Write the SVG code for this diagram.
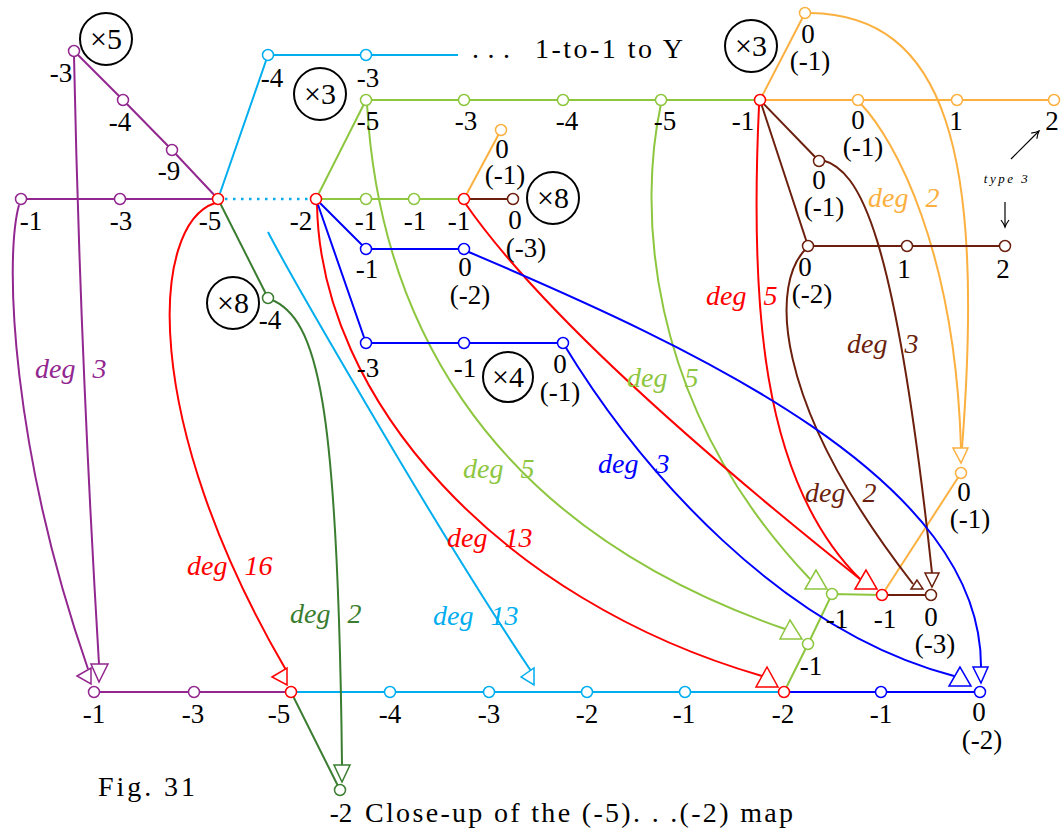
<svg xmlns="http://www.w3.org/2000/svg" width="1061" height="834" viewBox="0 0 1061 834">
<style>
.e{fill:none;stroke-width:2}
.pu{stroke:#92278F}.cy{stroke:#00AEEF}.gr{stroke:#8DC63F}.or{stroke:#FBB040}.br{stroke:#6B1F0C}.rd{stroke:#FF0000}.bl{stroke:#0000FF}.dg{stroke:#3A7D30}
.n circle{fill:#fff;stroke-width:1.5}
.ah{fill:#fff;stroke-width:1.5}
text{font-family:"Liberation Serif","Times New Roman",serif;font-size:27px;fill:#000;stroke:none}
.l{text-anchor:middle}
.d{font-style:italic;font-size:28px;word-spacing:10px}
.m circle{fill:none;stroke:#000;stroke-width:2}
.m text{font-size:30px}
</style>
<defs>
<marker id="blk" markerWidth="10" markerHeight="10" refX="8" refY="5" orient="auto" markerUnits="userSpaceOnUse">
<path d="M1,1 Q5,4 8,5 Q5,6 1,9" fill="none" stroke="#000" stroke-width="1.2"/>
</marker>
</defs>
<g id="connectors">
<polyline class="e pu" points="74,51 123,100 172,150 218,199"/>
<polyline class="e pu" points="21,199 120,199 218,199"/>
<path class="e pu" d="M74,56 Q80,350 99,664"/>
<path class="e pu" d="M19,205 C4,260 12,450 88,669"/>
<polyline class="e pu" points="94,692 194,692 291,692"/>
<polyline class="e cy" points="218,199 268,55 366,55 458,55"/>
<line class="cy" x1="225" y1="199" x2="311" y2="199" stroke-width="2.5" stroke-dasharray="2.5 5.5"/>
<polyline class="e cy" points="291,692 390,692 489,692 587,692 685,692 784,692"/>
<path class="e cy" d="M268,232 C285,265 430,520 531,671"/>
<polyline class="e gr" points="316,199 366,100 464,100 563,100 661,100 760,100"/>
<polyline class="e gr" points="316,199 366,199 414,199 464,199"/>
<path class="e gr" d="M367,104 C378,300 470,520 785,629"/>
<path class="e gr" d="M661,104 C640,200 640,400 810,579"/>
<polyline class="e gr" points="784,692 808,644 832,594 882,595"/>
<line class="e or" x1="464" y1="199" x2="501" y2="130"/>
<line class="e or" x1="760" y1="100" x2="805" y2="13"/>
<polyline class="e or" points="760,100 858,100 957,100 1054,100"/>
<path class="e or" d="M810,13 C945,15 985,150 962,448"/>
<path class="e or" d="M861,104 C895,140 955,250 961,448"/>
<line class="e or" x1="882" y1="595" x2="961" y2="473"/>
<line class="e br" x1="464" y1="199" x2="513" y2="199"/>
<line class="e br" x1="760" y1="100" x2="819" y2="161"/>
<line class="e br" x1="760" y1="100" x2="808" y2="246"/>
<polyline class="e br" points="808,246 907,246 1005,246"/>
<line class="e br" x1="882" y1="595" x2="931" y2="595"/>
<path class="e br" d="M822,160 C860,170 895,230 932,573"/>
<path class="e br" d="M808,247 C770,280 770,400 913,584"/>
<path class="e rd" d="M215,203 C150,225 140,420 286,670"/>
<path class="e rd" d="M317,204 C320,400 500,600 762,676"/>
<path class="e rd" d="M465,203 Q560,340 860,579"/>
<path class="e rd" d="M759,106 C750,300 760,480 860,579"/>
<polyline class="e bl" points="316,199 366,249 464,249"/>
<polyline class="e bl" points="316,199 366,343 464,343 563,343"/>
<polyline class="e bl" points="784,692 881,692 980,692"/>
<path class="e bl" d="M464,250 C700,350 982,480 981,667"/>
<path class="e bl" d="M563,343 C640,470 780,630 954,676"/>
<line class="e dg" x1="218" y1="199" x2="268" y2="298"/>
<path class="e dg" d="M270,299 C318,318 338,400 342,765"/>
<line class="e dg" x1="291" y1="692" x2="340" y2="790"/>
<polygon class="ah pu" points="91,664 108,664 99,682"/>
<polygon class="ah pu" points="77,676 91,668 91,684"/>
<polygon class="ah rd" points="272,677 287,668 287,685"/>
<polygon class="ah cy" points="521,677 534,668 534,685"/>
<polygon class="ah dg" points="334,765 350,765 342,782"/>
<polygon class="ah rd" points="767,667 756,687 778,687"/>
<polygon class="ah gr" points="790,620 780,639 802,639"/>
<polygon class="ah gr" points="816,570 805,589 827,589"/>
<polygon class="ah rd" points="866,570 855,589 877,589"/>
<polygon class="ah br" points="917,580 911,589 923,589"/>
<polygon class="ah br" points="925,573 939,573 932,587"/>
<polygon class="ah bl" points="960,667 949,686 971,686"/>
<polygon class="ah bl" points="973,667 988,667 981,683"/>
<polygon class="ah or" points="953,448 968,448 961,463"/>
<line x1="1011" y1="159" x2="1039" y2="131" stroke="#000" stroke-width="1.2" marker-end="url(#blk)"/>
<line x1="1005" y1="202" x2="1005" y2="227" stroke="#000" stroke-width="1.2" marker-end="url(#blk)"/>
</g>
<g id="deg-labels">
<text class="d" x="35" y="378" style="fill:#92278F">deg 3</text>
<text class="d" x="187" y="575" style="fill:#FF0000">deg 16</text>
<text class="d" x="290" y="623" style="fill:#3A7D30">deg 2</text>
<text class="d" x="433" y="625" style="fill:#00AEEF">deg 13</text>
<text class="d" x="447" y="547" style="fill:#FF0000">deg 13</text>
<text class="d" x="463" y="478" style="fill:#8DC63F">deg 5</text>
<text class="d" x="598" y="473" style="fill:#0000FF">deg 3</text>
<text class="d" x="627" y="387" style="fill:#8DC63F">deg 5</text>
<text class="d" x="706" y="305" style="fill:#FF0000">deg 5</text>
<text class="d" x="847" y="353" style="fill:#6B1F0C">deg 3</text>
<text class="d" x="805" y="502" style="fill:#6B1F0C">deg 2</text>
<text class="d" x="868" y="207" style="fill:#FBB040">deg 2</text>
<text class="l" x="1007" y="183" style="font-size:13px;font-style:italic;letter-spacing:2.5px">type 3</text>
</g>
<g id="p1" class="n pu"><circle cx="74" cy="51" r="5.5"/><text class="l" x="61" y="82">-3</text></g>
<g id="p2" class="n pu"><circle cx="123" cy="100" r="5.5"/><text class="l" x="120" y="131">-4</text></g>
<g id="p3" class="n pu"><circle cx="172" cy="150" r="5.5"/><text class="l" x="169" y="180">-9</text></g>
<g id="p4" class="n pu"><circle cx="21" cy="199" r="5.5"/><text class="l" x="31" y="230">-1</text></g>
<g id="p5" class="n pu"><circle cx="120" cy="199" r="5.5"/><text class="l" x="121" y="230">-3</text></g>
<g id="pb1" class="n pu"><circle cx="94" cy="692" r="5.5"/><text class="l" x="94" y="723">-1</text></g>
<g id="pb2" class="n pu"><circle cx="194" cy="692" r="5.5"/><text class="l" x="193" y="723">-3</text></g>
<g id="r1" class="n rd"><circle cx="218" cy="199" r="5.5"/><text class="l" x="210" y="230">-5</text></g>
<g id="r2" class="n rd"><circle cx="316" cy="199" r="5.5"/><text class="l" x="301" y="230">-2</text></g>
<g id="r3" class="n rd"><circle cx="464" cy="199" r="5.5"/><text class="l" x="459" y="230">-1</text></g>
<g id="r4" class="n rd"><circle cx="760" cy="100" r="5.5"/><text class="l" x="743" y="130">-1</text></g>
<g id="rb1" class="n rd"><circle cx="291" cy="692" r="5.5"/><text class="l" x="279" y="723">-5</text></g>
<g id="rb2" class="n rd"><circle cx="784" cy="692" r="5.5"/><text class="l" x="783" y="723">-2</text></g>
<g id="r5" class="n rd"><circle cx="882" cy="595" r="5.5"/><text class="l" x="885" y="628">-1</text></g>
<g id="c1" class="n cy"><circle cx="268" cy="55" r="5.5"/><text class="l" x="272" y="87">-4</text></g>
<g id="c2" class="n cy"><circle cx="366" cy="55" r="5.5"/><text class="l" x="368" y="87">-3</text></g>
<g id="cb1" class="n cy"><circle cx="390" cy="692" r="5.5"/><text class="l" x="390" y="723">-4</text></g>
<g id="cb2" class="n cy"><circle cx="489" cy="692" r="5.5"/><text class="l" x="489" y="723">-3</text></g>
<g id="cb3" class="n cy"><circle cx="587" cy="692" r="5.5"/><text class="l" x="587" y="723">-2</text></g>
<g id="cb4" class="n cy"><circle cx="685" cy="692" r="5.5"/><text class="l" x="684" y="723">-1</text></g>
<g id="g1" class="n gr"><circle cx="366" cy="100" r="5.5"/><text class="l" x="368" y="130">-5</text></g>
<g id="g2" class="n gr"><circle cx="464" cy="100" r="5.5"/><text class="l" x="466" y="130">-3</text></g>
<g id="g3" class="n gr"><circle cx="563" cy="100" r="5.5"/><text class="l" x="567" y="130">-4</text></g>
<g id="g4" class="n gr"><circle cx="661" cy="100" r="5.5"/><text class="l" x="665" y="130">-5</text></g>
<g id="g5" class="n gr"><circle cx="366" cy="199" r="5.5"/><text class="l" x="366" y="230">-1</text></g>
<g id="g6" class="n gr"><circle cx="414" cy="199" r="5.5"/><text class="l" x="415" y="230">-1</text></g>
<g id="g7" class="n gr"><circle cx="832" cy="594" r="5.5"/><text class="l" x="837" y="628">-1</text></g>
<g id="g8" class="n gr"><circle cx="808" cy="644" r="5.5"/><text class="l" x="811" y="675">-1</text></g>
<g id="o1" class="n or"><circle cx="501" cy="130" r="5.5"/><text class="l" x="502" y="158">0</text><text class="l" x="505" y="184">(-1)</text></g>
<g id="o2" class="n or"><circle cx="805" cy="13" r="5.5"/><text class="l" x="808" y="43">0</text><text class="l" x="810" y="70">(-1)</text></g>
<g id="o3" class="n or"><circle cx="858" cy="100" r="5.5"/><text class="l" x="858" y="129">0</text><text class="l" x="863" y="156">(-1)</text></g>
<g id="o4" class="n or"><circle cx="957" cy="100" r="5.5"/><text class="l" x="956" y="130">1</text></g>
<g id="o5" class="n or"><circle cx="1054" cy="100" r="5.5"/><text class="l" x="1052" y="130">2</text></g>
<g id="o6" class="n or"><circle cx="961" cy="473" r="5.5"/><text class="l" x="964" y="501">0</text><text class="l" x="970" y="528">(-1)</text></g>
<g id="b1" class="n br"><circle cx="513" cy="199" r="5.5"/><text class="l" x="515" y="229">0</text><text class="l" x="526" y="257">(-3)</text></g>
<g id="b2" class="n br"><circle cx="819" cy="161" r="5.5"/><text class="l" x="819" y="189">0</text><text class="l" x="824" y="216">(-1)</text></g>
<g id="b3" class="n br"><circle cx="808" cy="246" r="5.5"/><text class="l" x="805" y="276">0</text><text class="l" x="812" y="303">(-2)</text></g>
<g id="b4" class="n br"><circle cx="907" cy="246" r="5.5"/><text class="l" x="904" y="278">1</text></g>
<g id="b5" class="n br"><circle cx="1005" cy="246" r="5.5"/><text class="l" x="1003" y="278">2</text></g>
<g id="b6" class="n br"><circle cx="931" cy="595" r="5.5"/><text class="l" x="931" y="626">0</text><text class="l" x="935" y="653">(-3)</text></g>
<g id="u1" class="n bl"><circle cx="366" cy="249" r="5.5"/><text class="l" x="367" y="278">-1</text></g>
<g id="u2" class="n bl"><circle cx="464" cy="249" r="5.5"/><text class="l" x="465" y="276">0</text><text class="l" x="470" y="304">(-2)</text></g>
<g id="u3" class="n bl"><circle cx="366" cy="343" r="5.5"/><text class="l" x="368" y="377">-3</text></g>
<g id="u4" class="n bl"><circle cx="464" cy="343" r="5.5"/><text class="l" x="465" y="377">-1</text></g>
<g id="u5" class="n bl"><circle cx="563" cy="343" r="5.5"/><text class="l" x="560" y="373">0</text><text class="l" x="560" y="401">(-1)</text></g>
<g id="ub1" class="n bl"><circle cx="881" cy="692" r="5.5"/><text class="l" x="881" y="723">-1</text></g>
<g id="ub2" class="n bl"><circle cx="980" cy="692" r="5.5"/><text class="l" x="979" y="721">0</text><text class="l" x="982" y="749">(-2)</text></g>
<g id="dg1" class="n dg"><circle cx="268" cy="298" r="5.5"/><text class="l" x="270" y="329">-4</text></g>
<g id="dg2" class="n dg"><circle cx="340" cy="790" r="5.5"/><text class="l" x="341" y="822">-2</text></g>
<g id="m5" class="m"><circle cx="106" cy="39" r="26"/><text class="l" x="106" y="49">×5</text></g>
<g id="m3a" class="m"><circle cx="320" cy="94" r="26"/><text class="l" x="320" y="104">×3</text></g>
<g id="m3b" class="m"><circle cx="751" cy="46" r="26"/><text class="l" x="751" y="56">×3</text></g>
<g id="m8a" class="m"><circle cx="553" cy="198" r="26"/><text class="l" x="553" y="208">×8</text></g>
<g id="m8b" class="m"><circle cx="233" cy="303" r="26"/><text class="l" x="233" y="313">×8</text></g>
<g id="m4" class="m"><circle cx="508" cy="377" r="25"/><text class="l" x="508" y="387">×4</text></g>
<g id="captions">
<text x="472" y="58" style="font-size:28px" textLength="38">. . .</text>
<text x="535" y="58" style="font-size:28px" textLength="148">1-to-1 to Y</text>
<text x="98" y="796" style="font-size:28px" textLength="97">Fig. 31</text>
<text x="365" y="822" style="font-size:28px" textLength="428">Close-up of the (-5). . .(-2) map</text>
</g>
</svg>
